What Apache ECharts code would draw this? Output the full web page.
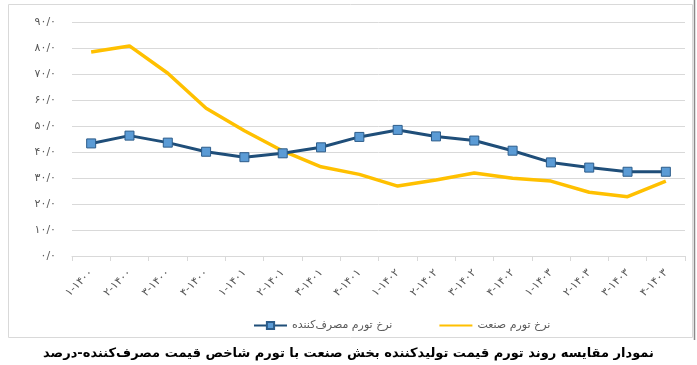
<!DOCTYPE html>
<html><head><meta charset="utf-8">
<script src="https://cdn.jsdelivr.net/npm/echarts@6/dist/echarts.min.js"></script>
<style>html,body{margin:0;padding:0;background:#fff}#c{width:697px;height:365px}</style>
</head><body><div id="c"></div>
<script>
var categories = ['۱-۱۴۰۰','۲-۱۴۰۰','۳-۱۴۰۰','۴-۱۴۰۰','۱-۱۴۰۱','۲-۱۴۰۱','۳-۱۴۰۱','۴-۱۴۰۱','۱-۱۴۰۲','۲-۱۴۰۲','۳-۱۴۰۲','۴-۱۴۰۲','۱-۱۴۰۳','۲-۱۴۰۳','۳-۱۴۰۳','۴-۱۴۰۳'];
var consumerInflation = [43.3, 46.3, 43.6, 40.1, 38.0, 39.5, 41.8, 45.8, 48.5, 46.0, 44.4, 40.5, 36.0, 34.0, 32.4, 32.4];
var industryInflation = [78.5, 80.8, 70.3, 56.8, 48.2, 40.4, 34.3, 31.4, 26.9, 29.2, 31.9, 29.9, 28.8, 24.5, 22.8, 28.8];
var yTickLabels = {0:'۰/۰',10:'۱۰/۰',20:'۲۰/۰',30:'۳۰/۰',40:'۴۰/۰',50:'۵۰/۰',60:'۶۰/۰',70:'۷۰/۰',80:'۸۰/۰',90:'۹۰/۰'};
var seriesNames = ['نرخ تورم مصرف‌کننده','نرخ تورم صنعت'];
var titleText = 'نمودار مقایسه روند تورم قیمت تولیدکننده بخش صنعت با تورم شاخص قیمت مصرف‌کننده-درصد';

var chart = echarts.init(document.getElementById('c'));
var font = "'DejaVu Sans', 'Noto Sans', sans-serif";
chart.setOption({
  animation: false,
  textStyle: {fontFamily: font},
  grid: {left: 72, right: 12, top: 22, bottom: 109},
  graphic: [
    {type: 'rect', shape: {x: 8.5, y: 4.5, width: 684, height: 333}, style: {fill: 'none', stroke: '#d9d9d9', lineWidth: 1}, silent: true},
    {type: 'line', shape: {x1: 694.5, y1: 0, x2: 694.5, y2: 340}, style: {stroke: '#8a8a8a', lineWidth: 1.5}, silent: true}
  ],
  title: {
    text: titleText, left: 'center', top: 342,
    textStyle: {fontFamily: font, fontSize: 13, fontWeight: 'bold', color: '#000'}
  },
  legend: {
    left: 248, top: 315, itemGap: 46, itemWidth: 33, itemHeight: 9,
    textStyle: {fontFamily: font, fontSize: 11, color: '#595959'},
    data: seriesNames
  },
  xAxis: {
    type: 'category', data: categories, boundaryGap: true,
    axisLine: {lineStyle: {color: '#d9d9d9', width: 1}},
    axisTick: {show: true, length: 5, lineStyle: {color: '#d9d9d9'}},
    axisLabel: {rotate: 45, margin: 15, fontSize: 11, color: '#595959', fontFamily: font, interval: 0},
    splitLine: {show: false}
  },
  yAxis: {
    type: 'value', min: 0, max: 90, interval: 10,
    axisLine: {show: false}, axisTick: {show: false},
    axisLabel: {margin: 16, fontSize: 11, color: '#595959', fontFamily: font,
      formatter: function (v) { return yTickLabels[v] !== undefined ? yTickLabels[v] : ''; }},
    splitLine: {lineStyle: {color: '#d9d9d9', width: 1}}
  },
  series: [
    {
      name: seriesNames[0], type: 'line', data: consumerInflation,
      symbol: 'rect', symbolSize: 9, showAllSymbol: true,
      lineStyle: {color: '#1f4e79', width: 3},
      itemStyle: {color: '#5b9bd5', borderColor: '#2c5c8a', borderWidth: 1},
      z: 3
    },
    {
      name: seriesNames[1], type: 'line', data: industryInflation,
      symbol: 'none',
      lineStyle: {color: '#ffc000', width: 3.5},
      itemStyle: {color: 'rgba(0,0,0,0)', borderWidth: 0},
      z: 2
    }
  ]
});
</script></body></html>
